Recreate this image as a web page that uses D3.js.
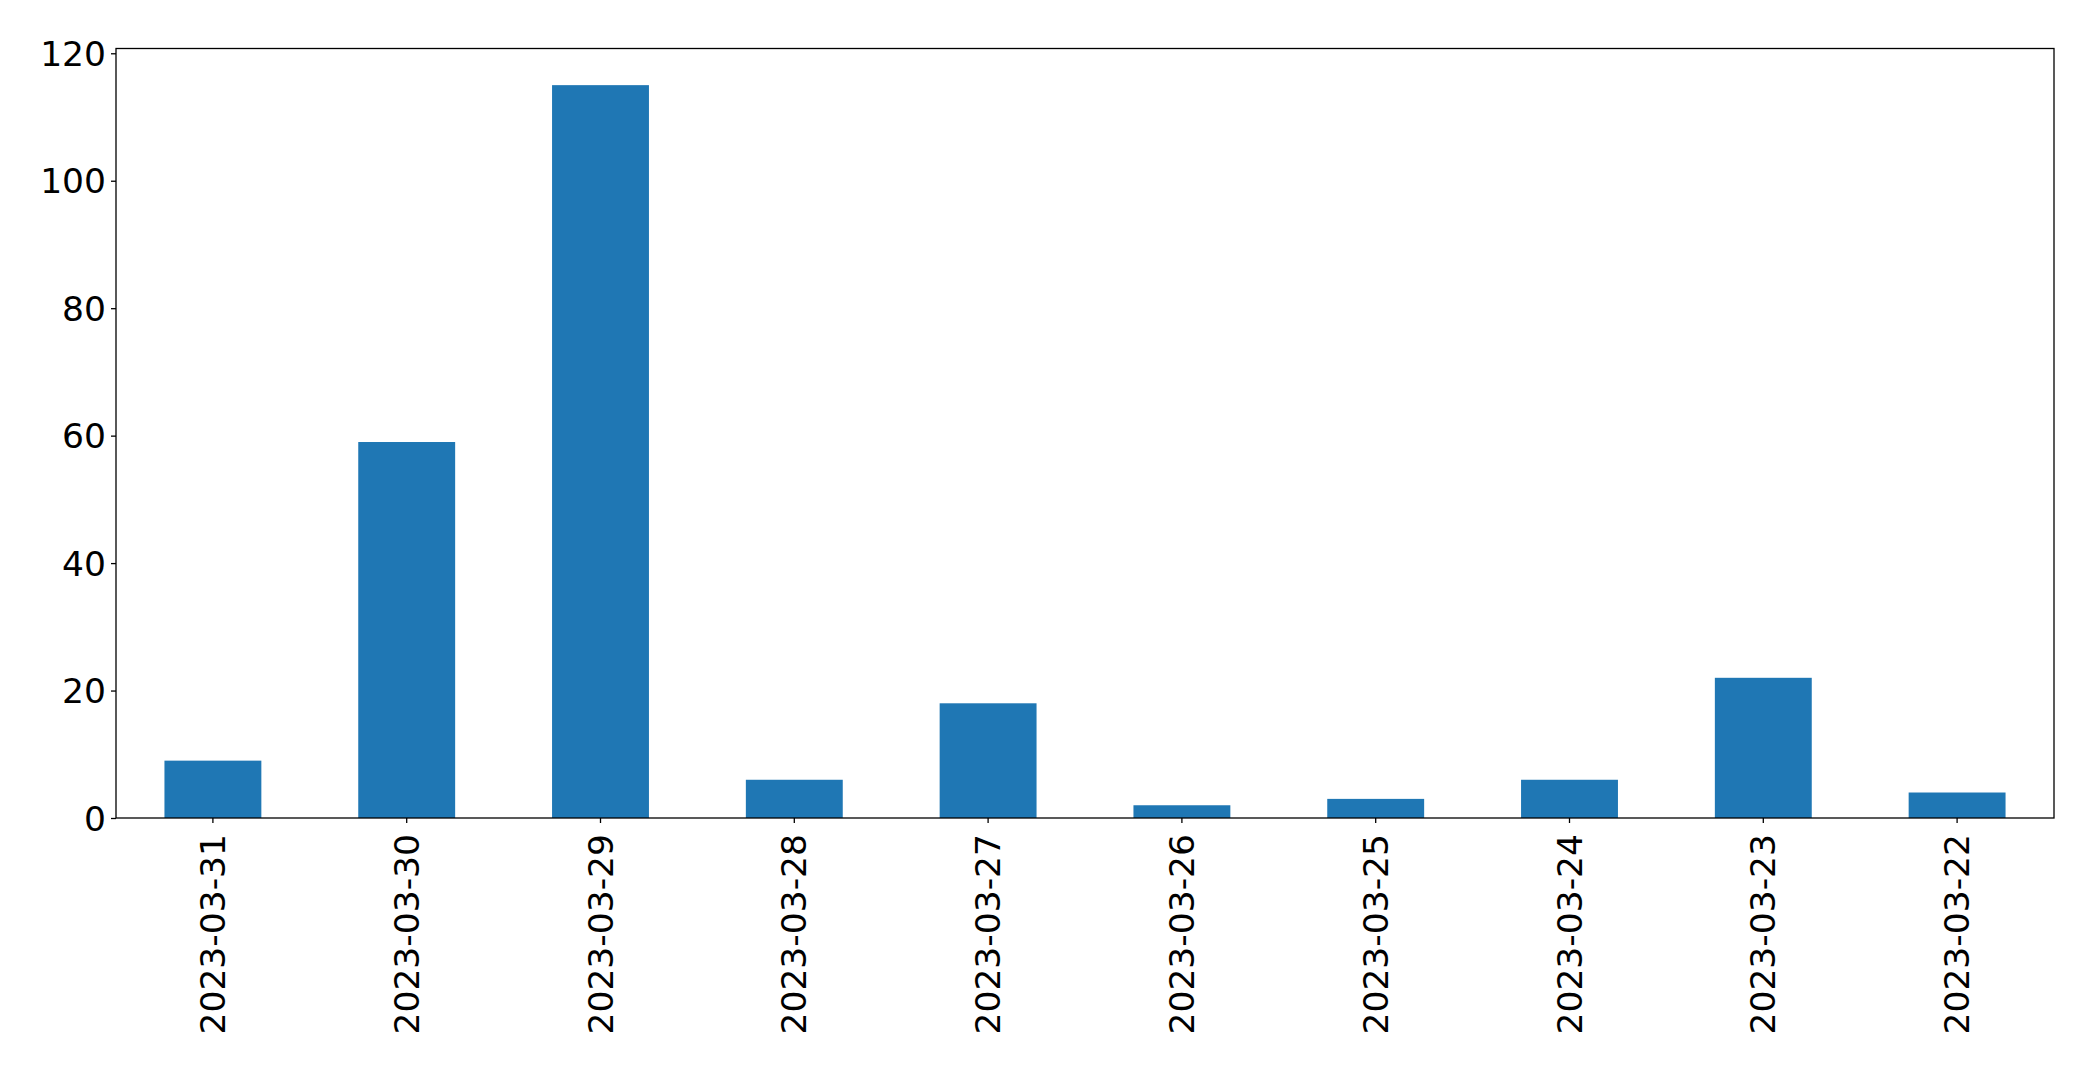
<!DOCTYPE html>
<html>
<head>
<meta charset="utf-8">
<script src="https://cdn.jsdelivr.net/npm/d3@7"></script>
<style>
  html, body { margin: 0; padding: 0; background: #fff; }
  svg { display: block; }
  text { font-family: "DejaVu Sans", sans-serif; }
</style>
</head>
<body>
<script>
const categories = ["2023-03-31","2023-03-30","2023-03-29","2023-03-28","2023-03-27","2023-03-26","2023-03-25","2023-03-24","2023-03-23","2023-03-22"];
const values = [9, 59, 115, 6, 18, 2, 3, 6, 22, 4];
const yTicks = [0, 20, 40, 60, 80, 100, 120];

const W = 2093, H = 1070;
const m = { left: 116, right: 2054, top: 48.5, bottom: 818 };
const fontSize = 34.5;

const svg = d3.select("body").append("svg").attr("width", W).attr("height", H);

const x = d3.scaleBand().domain(categories).range([m.left, m.right]).paddingInner(0.5).paddingOuter(0.25);
const yMax = d3.max(values) * 1.05;
const y = d3.scaleLinear().domain([0, yMax]).range([m.bottom, m.top]);

svg.append("g").selectAll("rect").data(values).join("rect")
  .attr("x", (d, i) => x(categories[i]))
  .attr("width", x.bandwidth())
  .attr("y", d => y(d))
  .attr("height", d => y(0) - y(d))
  .attr("fill", "#1f77b4");

// frame
svg.append("rect")
  .attr("x", m.left).attr("y", m.top)
  .attr("width", m.right - m.left).attr("height", m.bottom - m.top)
  .attr("fill", "none").attr("stroke", "#000").attr("stroke-width", 1.3);

const yAxis = svg.append("g").attr("transform", `translate(${m.left},0)`)
  .call(d3.axisLeft(y).tickValues(yTicks).tickSize(5).tickPadding(5).tickFormat(d3.format("d")));
yAxis.select(".domain").remove();
yAxis.selectAll("line").attr("stroke", "#000").attr("stroke-width", 1.3);
yAxis.selectAll("text").attr("font-size", fontSize).attr("fill", "#000")
  .attr("font-family", "DejaVu Sans").attr("dy", "0.35em");

const xAxis = svg.append("g").attr("transform", `translate(0,${m.bottom})`)
  .call(d3.axisBottom(x).tickSize(5).tickPadding(5));
xAxis.select(".domain").remove();
xAxis.selectAll("line").attr("stroke", "#000").attr("stroke-width", 1.3);
xAxis.selectAll("text")
  .attr("font-size", fontSize).attr("fill", "#000").attr("font-family", "DejaVu Sans")
  .attr("text-anchor", "end")
  .attr("x", 0).attr("y", 0).attr("dy", "0.35em")
  .attr("transform", "translate(0,16) rotate(-90)");
</script>
</body>
</html>
